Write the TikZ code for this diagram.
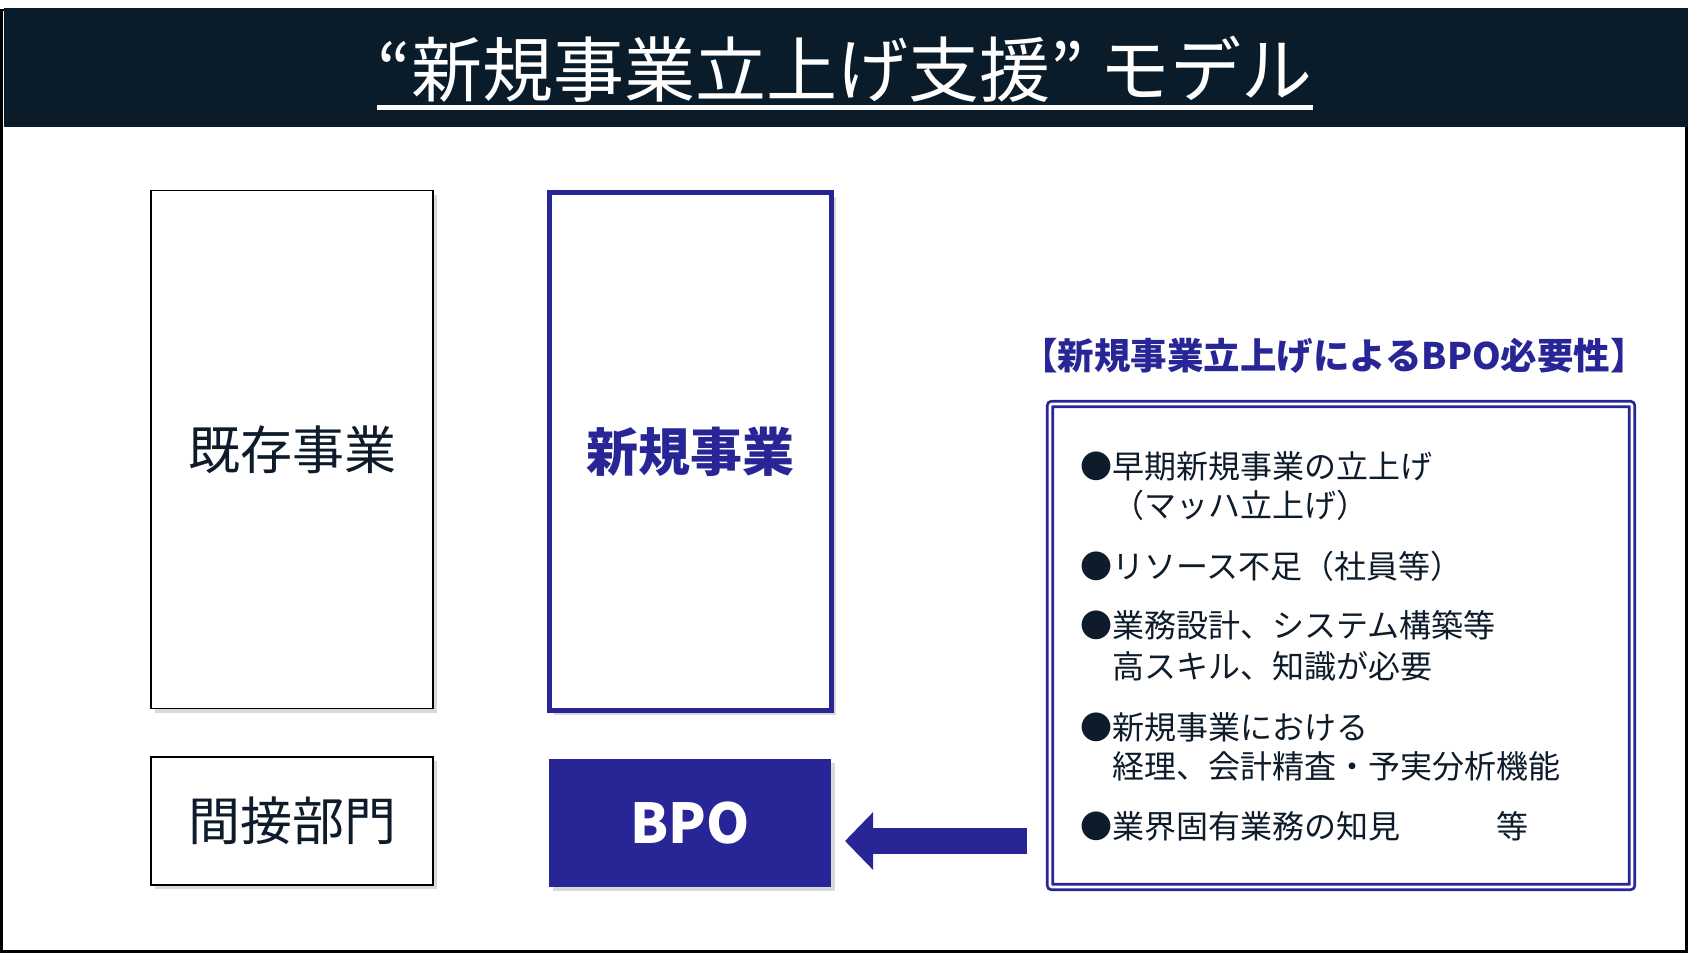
\documentclass[tikz,border=0pt]{standalone}
\usepackage{fontspec}
\setmainfont{Noto Sans CJK JP}
\usepackage{tikz}
\usetikzlibrary{
  arrows.meta,
  positioning,
  shadows
}
\definecolor{bandnavy}{RGB}{10,28,42}
\definecolor{bpoblue}{RGB}{40,38,150}
\definecolor{inktext}{RGB}{13,27,42}

\begin{document}
\begin{tikzpicture}[x=1pt, y=-1pt,
    bizbox/.style={draw=black, line width=1.8pt, fill=white, text=inktext,
      minimum width=282pt, minimum height=518pt, inner sep=0pt,
      font=\fontsize{52}{58}\selectfont,
      drop shadow={shadow xshift=4pt, shadow yshift=-4pt, opacity=0.3}},
    newbox/.style={bizbox, draw=bpoblue, line width=4.5pt, text=bpoblue,
      font=\fontsize{52}{58}\selectfont\bfseries},
    lowbox/.style={bizbox, minimum height=128pt},
    bpobox/.style={lowbox, draw=none, fill=bpoblue, text=white,
      font=\fontsize{55}{60}\selectfont\bfseries},
    itemtext/.style={anchor=west, inner sep=0pt, text=inktext,
      text height=28.2pt, text depth=3.8pt,
      font=\fontsize{32}{36}\selectfont}
  ]
    \useasboundingbox (0,0) rectangle (1688,953);

    % Slide frame and header band
    \draw[black, line width=2.5pt] (1.5,10) rectangle (1686.5,951.5);
    \fill[bandnavy] (4,8) rectangle (1688,127);
    \node (title) [inner sep=0pt, text=white, text height=62.5pt, text depth=8.5pt,
      font=\fontsize{71}{77}\selectfont] at (845,69) {“新規事業立上げ支援” モデル};
    \draw[white, line width=4.5pt] ([yshift=-3pt]title.south west) -- ([yshift=-3pt]title.south east);

    % Business blocks
    \node (existing) [bizbox] at (292,449.5) {既存事業};
    \node (newbiz) [newbox] at (690.5,451.5) {新規事業};
    \node (indirect) [lowbox] at (292,821) {間接部門};
    \node (bpo) [bpobox] at (690,823) {BPO};

    % Why BPO is needed
    \node (needshead) [text=bpoblue, font=\fontsize{36.5}{40}\selectfont\bfseries]
      at (1334,356) {【新規事業立上げによるBPO必要性】};
    \node (needs) [draw=bpoblue, double=white, double distance=2.6pt, line width=2.8pt,
      rounded corners=2pt, minimum width=582pt, minimum height=483pt] at (1341,645.5) {};
    \foreach \y/\txt [count=\i] in {466/●早期新規事業の立上げ, 505/　（マッハ立上げ）,
        566/●リソース不足（社員等）, 625/●業務設計、システム構築等,
        666/　高スキル、知識が必要, 727/●新規事業における,
        766/　経理、会計精査・予実分析機能, 826/●業界固有業務の知見　　　等} {
        \node (item\i) [itemtext] at (1080,\y) {\txt};
    }

    % Arrow into BPO
    \coordinate (arrowtail) at (1027,841);
    \coordinate (arrowtip) at (845,841);
    \draw[bpoblue, line width=26pt, -{Triangle[length=28pt, width=56pt]}] (arrowtail) -- (arrowtip);
\end{tikzpicture}
\end{document}
